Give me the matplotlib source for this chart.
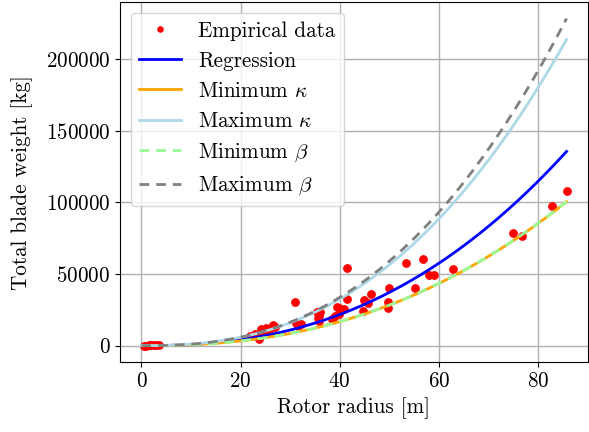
import numpy as np
import matplotlib
matplotlib.use("Agg")
import matplotlib.pyplot as plt

plt.rcParams["font.family"] = "serif"
plt.rcParams["font.serif"] = ["cmr10"]
plt.rcParams["mathtext.fontset"] = "cm"
plt.rcParams["axes.formatter.use_mathtext"] = True
plt.rcParams["font.size"] = 15.2

# measured blades: rotor radius [m] and total blade weight [kg]
radius = [0.5, 1.0, 1.5, 2.0, 2.5, 3.0, 3.5,
          22.0, 23.0, 23.8, 24.1, 24.5, 25.1, 25.8, 26.5, 27.0,
          30.9, 31.1, 31.5, 32.3, 35.4, 35.6, 35.8, 36.1, 35.8,
          38.5, 39.1, 39.5, 39.8, 39.8, 40.8,
          41.4, 41.5, 44.8, 44.9, 45.8, 46.4, 49.8, 49.8, 49.9,
          53.3, 55.3, 56.9, 58.0, 59.0,
          62.9, 74.9, 76.9, 82.8, 85.8]
weight = [50, 100, 150, 200, 300, 400, 500,
          6500, 8000, 4700, 11300, 9500, 12500, 11000, 14100, 13000,
          30200, 16000, 14000, 14800, 23300, 19500, 17200, 23500, 20700,
          18900, 20700, 26900, 21900, 26600, 25400,
          32500, 54400, 24300, 32000, 29700, 36000, 26000, 30200, 40300,
          57300, 40500, 60300, 49200, 49200,
          53500, 78300, 76600, 97100, 108000]

# power-law model W = kappa * R**beta
kappa_reg, beta_reg = 3.1, 2.4
kappa_min, beta_min = 2.87, 2.35
kappa_max, beta_max = 3.58, 2.47
kappa_bmin, beta_bmin = 2.85, 2.352
kappa_bmax, beta_bmax = 3.2, 2.51

r = np.linspace(0, max(radius), 300)

fig, ax = plt.subplots(figsize=(5.89, 4.32), dpi=100)
fig.subplots_adjust(left=0.204, right=0.998, top=0.995, bottom=0.162)

ax.plot(radius, weight, "o", color="red", ms=5.3, ls="none", label="Empirical data")
ax.plot(r, kappa_reg * r**beta_reg, color="blue", lw=2, label="Regression")
ax.plot(r, kappa_min * r**beta_min, color="orange", lw=2, label=r"Minimum $\kappa$")
ax.plot(r, kappa_max * r**beta_max, color="lightblue", lw=2, label=r"Maximum $\kappa$")
ax.plot(r, kappa_bmin * r**beta_bmin, color="palegreen", lw=2, ls="--",
        dashes=(3.5, 2.5), label=r"Minimum $\beta$")
ax.plot(r, kappa_bmax * r**beta_bmax, color="gray", lw=2, ls="--",
        dashes=(3.5, 2.5), label=r"Maximum $\beta$")

ax.set_xlabel("Rotor radius [m]")
ax.set_ylabel("Total blade weight [kg]", labelpad=9)
ax.grid(True, color="#b0b0b0", lw=1)
ax.set_axisbelow(True)
ax.legend(loc="upper left", markerscale=0.7)

fig.savefig("out.png", dpi=100)
